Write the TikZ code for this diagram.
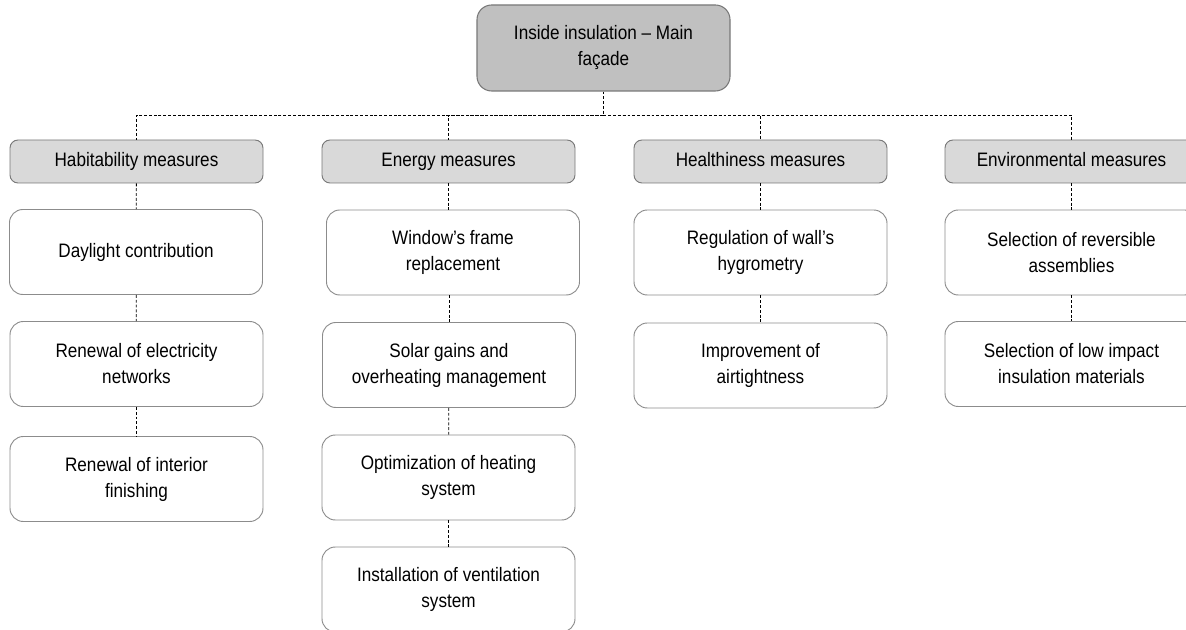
\documentclass[tikz,border=0pt]{standalone}
\usepackage{xcolor}
\usepackage{fontspec}
\setmainfont[FakeStretch=0.88]{Liberation Sans}
\definecolor{topgray}{RGB}{192,192,192}
\definecolor{catgray}{RGB}{217,217,217}
\definecolor{edgegray}{RGB}{120,120,120}
\definecolor{boxgray}{RGB}{140,140,140}
\tikzset{
  mainbox/.style={draw=edgegray, fill=topgray, line width=0.8pt, rounded corners=11pt,
    minimum width=189.75pt, minimum height=64.5pt, align=center, inner sep=2pt,
    font=\fontsize{14.6pt}{19.5pt}\selectfont},
  catbox/.style={draw=edgegray, fill=catgray, line width=0.7pt, rounded corners=6pt,
    minimum width=189.75pt, minimum height=32.25pt, align=center, inner sep=2pt,
    text height=10.5pt, text depth=3pt,
    font=\fontsize{14.6pt}{19.5pt}\selectfont},
  itembox/.style={draw=boxgray, fill=white, line width=0.7pt, rounded corners=10pt,
    minimum width=189.75pt, minimum height=63.75pt, align=center, inner sep=2pt,
    font=\fontsize{14.6pt}{19.5pt}\selectfont},
  link/.style={draw=black, line width=0.6pt, dash pattern=on 2.2pt off 1.4pt}
}

\begin{document}
\begin{tikzpicture}[x=0.75pt,y=0.75pt,yscale=-1,xscale=1]
%set diagram: 1186 wide, 630 high
\clip (0,0) rectangle (1186,630);

% Top node
\node [mainbox] (top) at (603.5,48) {Inside insulation -- Main\\façade};

% Category nodes
\node [catbox] (hab) at (136.5,161.5) {Habitability measures};
\node [catbox] (ene) at (448.5,161.5) {Energy measures};
\node [catbox] (hea) at (760.5,161.5) {Healthiness measures};
\node [catbox] (env) at (1071.5,161.5) {Environmental measures};

% Habitability column
\node [itembox] (day) at (136,252) {Daylight contribution};
\node [itembox] (ele) at (136.5,364) {Renewal of electricity\\networks};
\node [itembox] (int) at (136.5,479) {Renewal of interior\\finishing};

% Energy column
\node [itembox] (win) at (453,252.5) {Window’s frame\\replacement};
\node [itembox] (sol) at (449,365) {Solar gains and\\overheating management};
\node [itembox] (opt) at (448.5,477.5) {Optimization of heating\\system};
\node [itembox] (ven) at (448.5,589.5) {Installation of ventilation\\system};

% Healthiness column
\node [itembox] (reg) at (760.5,252.5) {Regulation of wall’s\\hygrometry};
\node [itembox] (imp) at (760.5,365.5) {Improvement of\\airtightness};

% Environmental column
\node [itembox] (rev) at (1071.5,252.5) {Selection of reversible\\assemblies};
\node [itembox] (low) at (1071.5,364) {Selection of low impact\\insulation materials};

% Connectors
\coordinate (bus) at (0,115);
\draw [link] (top.south) -- (top.south |- bus) -| (hab.north);
\draw [link] (top.south |- bus) -| (ene.north);
\draw [link] (top.south |- bus) -| (hea.north);
\draw [link] (top.south |- bus) -| (env.north);

\draw [link] (hab) -- (day);
\draw [link] (day) -- (ele);
\draw [link] (ele) -- (int);

\draw [link] (ene) -- (ene.south |- win.north);
\draw [link] (sol.north |- win.south) -- (sol);
\draw [link] (sol) -- (opt);
\draw [link] (opt) -- (ven);

\draw [link] (hea) -- (reg);
\draw [link] (reg) -- (imp);

\draw [link] (env) -- (rev);
\draw [link] (rev) -- (low);

\end{tikzpicture}
\end{document}
